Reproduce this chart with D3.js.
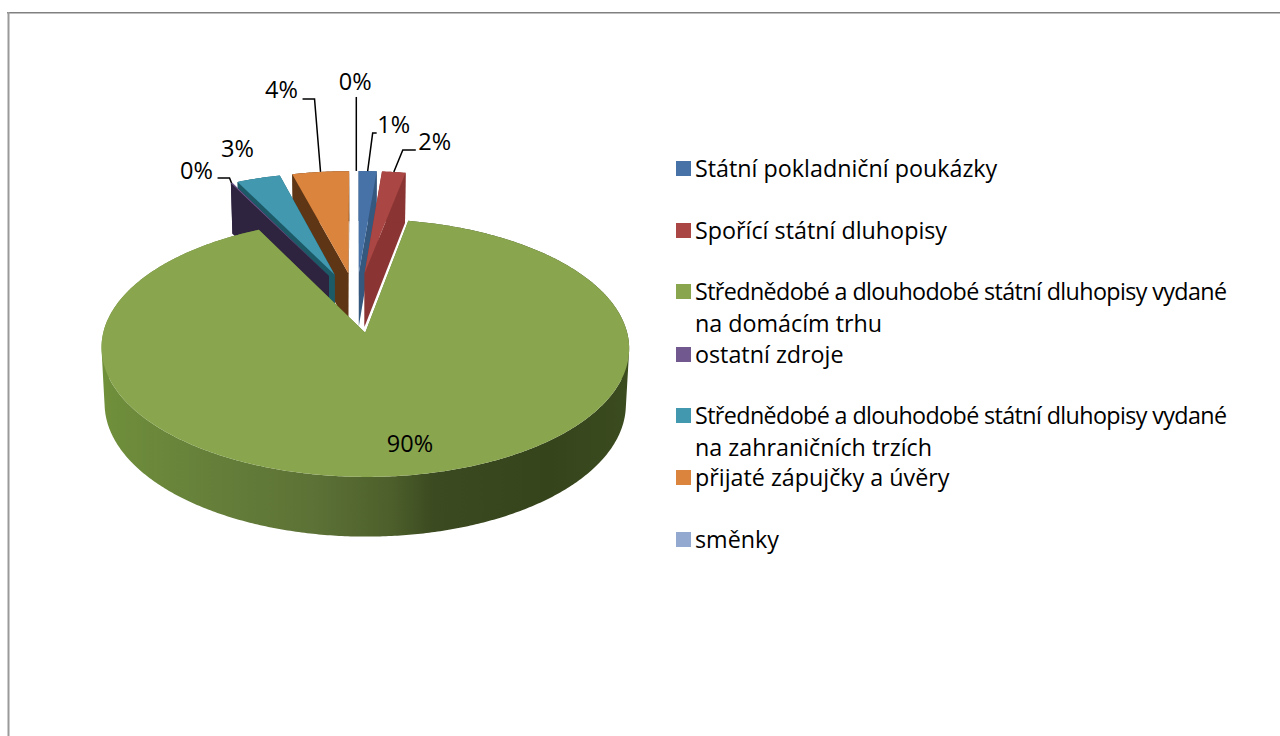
<!DOCTYPE html>
<html><head><meta charset="utf-8">
<script src="https://cdn.jsdelivr.net/npm/d3@7/dist/d3.min.js"></script>
<style>html,body{margin:0;padding:0;background:#fff}svg{display:block}text{font-family:"Open Sans",Lato,sans-serif;fill:#000}</style>
</head><body><svg id="c" width="1280" height="736"></svg>
<script>
const categories = ["Státní pokladniční poukázky","Spořící státní dluhopisy","Střednědobé a dlouhodobé státní dluhopisy vydané na domácím trhu","ostatní zdroje","Střednědobé a dlouhodobé státní dluhopisy vydané na zahraničních trzích","přijaté zápujčky a úvěry","směnky"];
const values = [1.3,1.7,89.65,0.1,3.15,4.1,0];
const percentLabels = ["1%","2%","90%","0%","3%","4%","0%"];
const topColors = ["#4672a8","#aa4643","#89a54e","#71588f","#4198af","#db843d","#93a9cf"];
const wallColors = ["#35587f","#8a3533","#5f7a30","#2e2440","#1c5a68","#5e3616","#6d7f9e"];
const legendLines = [["Státní pokladniční poukázky"],["Spořící státní dluhopisy"],["Střednědobé a dlouhodobé státní dluhopisy vydané","na domácím trhu"],["ostatní zdroje"],["Střednědobé a dlouhodobé státní dluhopisy vydané","na zahraničních trzích"],["přijaté zápujčky a úvěry"],["směnky"]];
const legendY = [168,230,291,354,415,477,539];
const longLineWidth = 532;
const rimStops = [[0,"#70903b"],[0.2,"#66803a"],[0.4,"#5c7236"],[0.55,"#4d5f2b"],[0.63,"#3b4a20"],[0.85,"#36441c"],[1,"#3b4c1f"]];
// label centre and leader elbow, as offsets from the slice's outer anchor
const labelOffsets = [[26,-47],[41,-31],null,[-35,-13],[-21,-30],[-39,-83],[-1,-90]];
const leaderPts = [[[5,-38],[9,-38]],[[9,-22],[22,-22]],null,[[-2,-5],[-14,-5]],null,[[-6,-73],[-18,-73]],[[0,-74]]];
const innerLabel = {i:2,x:410,y:443};

const svg = d3.select("#c");
// frame
svg.append("rect").attr("x",7).attr("y",12).attr("width",1273).attr("height",1.5).attr("fill","#808080");
svg.append("rect").attr("x",7.5).attr("y",12).attr("width",2).attr("height",724).attr("fill","#9a9a9a");

const cx=356.3, cy=302.1, rx=254.5, ry=120, persp=0.115, explode=0.25;
const project=(U,V)=>[cx+rx*U/(1-persp*V), cy+ry*V/(1-persp*V)];
const depthAt=V=>54.5/(1-0.07*V);
const arcs=d3.pie().sort(null).value(d=>d)(values);
const line=d3.line();
const defs=svg.append("defs");
const grad=defs.append("linearGradient").attr("id","rim").attr("gradientUnits","userSpaceOnUse").attr("x1",100).attr("x2",630).attr("y1",0).attr("y2",0);
rimStops.forEach(s=>grad.append("stop").attr("offset",s[0]).attr("stop-color",s[1]));

function geom(a){
  const m=(a.startAngle+a.endAngle)/2, ox=explode*Math.sin(m), oy=-explode*Math.cos(m);
  const world=(t,r)=>[ox+r*Math.sin(t), oy-r*Math.cos(t)];
  const top=w=>project(w[0],w[1]);
  const bot=w=>{const p=project(w[0],w[1]);return [cx+(p[0]-cx)*0.988,p[1]+depthAt(w[1])];};
  const n=Math.max(2,Math.ceil((a.endAngle-a.startAngle)/0.01));
  const rim=d3.range(n+1).map(i=>world(a.startAngle+(a.endAngle-a.startAngle)*i/n,1));
  const apex=world(0,0);
  return {top,bot,rim,apex,m,world};
}
// union of same-orientation quads, so the outline's tangent points do not cancel
function wallPath(g){
  let d="";
  for(let i=0;i<g.rim.length-1;i++){
    let q=[g.top(g.rim[i]),g.top(g.rim[i+1]),g.bot(g.rim[i+1]),g.bot(g.rim[i])];
    if(d3.polygonArea(q)<0) q=q.reverse();
    d+=line(q)+"Z";
  }
  return d;
}
const order=[5,4,3,6,0,1,2];
order.forEach(i=>{
  const a=arcs[i]; if(a.endAngle-a.startAngle<=0) return;
  const g=geom(a), G=svg.append("g");
  const wallFill=i===2?"url(#rim)":wallColors[i];
  const first=g.rim[0], last=g.rim[g.rim.length-1];
  [first,last].forEach(w=>G.append("path").attr("fill",wallColors[i])
    .attr("d",line([g.top(g.apex),g.top(w),g.bot(w),g.bot(g.apex)])+"Z"));
  G.append("path").attr("fill",wallFill).attr("d",wallPath(g));
  G.append("path").attr("fill",topColors[i])
    .attr("d",line([g.top(g.apex)].concat(g.rim.map(g.top)))+"Z");
});

// data labels and leaders
arcs.forEach((a,i)=>{
  if(i===innerLabel.i){
    svg.append("text").attr("x",innerLabel.x).attr("y",innerLabel.y).attr("text-anchor","middle").attr("dominant-baseline","central").attr("font-size",23.5).text(percentLabels[i]);
    return;
  }
  const g=geom(a), w=g.world(g.m,1), p=g.top(w);
  if(leaderPts[i]){
    const pts=[p].concat(leaderPts[i].map(o=>[p[0]+o[0],p[1]+o[1]]));
    svg.append("path").attr("fill","none").attr("stroke","#000").attr("stroke-width",1.5).attr("d",line(pts));
  }
  const o=labelOffsets[i];
  svg.append("text").attr("x",p[0]+o[0]).attr("y",p[1]+o[1]).attr("text-anchor","middle").attr("dominant-baseline","central").attr("font-size",23.5).text(percentLabels[i]);
});

// legend
categories.forEach((c,i)=>{
  svg.append("rect").attr("x",676).attr("y",legendY[i]-7).attr("width",15).attr("height",15).attr("fill",topColors[i]);
  legendLines[i].forEach((t,j)=>{
    const el=svg.append("text").attr("x",695).attr("y",legendY[i]+j*32).attr("dominant-baseline","central").attr("font-size",23.3).text(t);
    if(t.length>40) el.attr("textLength",longLineWidth).attr("lengthAdjust","spacing");
  });
});
</script></body></html>
